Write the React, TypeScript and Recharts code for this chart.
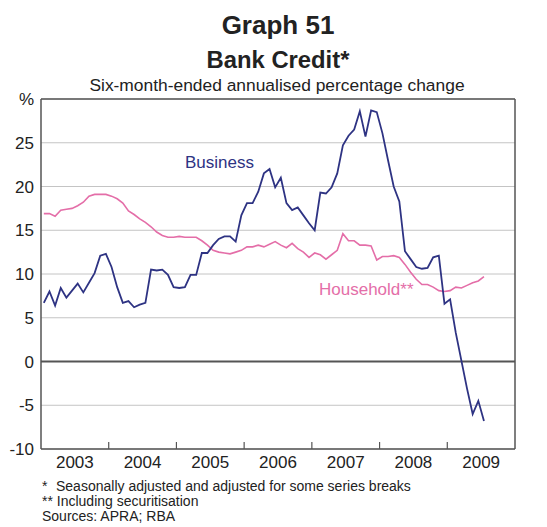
import React from 'react';
import {
  CartesianGrid,
  Line,
  LineChart,
  ReferenceLine,
  XAxis,
  YAxis,
} from 'recharts';

// Monthly observations, Jan 2003 onwards (six-month-ended annualised % change)
const business = [
  6.7, 8.0, 6.4, 8.4, 7.3, 8.1, 8.9, 7.9, 9.0, 10.1, 12.1, 12.3,
  10.8, 8.5, 6.7, 6.9, 6.2, 6.5, 6.7, 10.5, 10.4, 10.5, 9.9, 8.5,
  8.4, 8.5, 9.9, 9.9, 12.4, 12.4, 13.3, 14.0, 14.3, 14.3, 13.7, 16.7,
  18.1, 18.1, 19.4, 21.5, 22.0, 19.9, 21.0, 18.1, 17.3, 17.6, 16.7, 15.8,
  15.0, 19.3, 19.2, 19.9, 21.5, 24.7, 25.8, 26.5, 28.6, 25.7, 28.7, 28.5,
  26.1, 23.0, 20.0, 18.3, 12.6, 11.7, 10.8, 10.6, 10.7, 11.9, 12.1, 6.6,
  7.1, 3.3, 0.1, -3.1, -6.0, -4.5, -6.8,
];

const household = [
  16.9, 16.9, 16.6, 17.3, 17.4, 17.5, 17.8, 18.2, 18.9, 19.1, 19.1, 19.1,
  18.9, 18.6, 18.1, 17.2, 16.8, 16.3, 15.9, 15.4, 14.8, 14.4, 14.2, 14.2,
  14.3, 14.2, 14.2, 14.2, 13.8, 13.3, 12.7, 12.5, 12.4, 12.3, 12.5, 12.7,
  13.1, 13.1, 13.3, 13.1, 13.4, 13.7, 13.3, 13.0, 13.5, 12.9, 12.5, 11.9,
  12.4, 12.2, 11.7, 12.2, 12.7, 14.6, 13.8, 13.8, 13.3, 13.3, 13.2, 11.6,
  12.0, 12.0, 12.1, 11.9, 11.1, 10.2, 9.4, 8.8, 8.8, 8.5, 8.1, 8.0,
  8.1, 8.5, 8.4, 8.7, 9.0, 9.2, 9.7,
];

const years = ['2003', '2004', '2005', '2006', '2007', '2008', '2009'];
const yTicks = [-10, -5, 0, 5, 10, 15, 20, 25, 30];

// x is months since Jan 2003, plotted mid-month
const data = business.map((b, i) => ({
  x: i + 0.5,
  business: b,
  household: household[i],
}));

const xTicks: number[] = [];
for (let m = 0; m <= years.length * 12; m += 6) xTicks.push(m);

const FONT = '"Liberation Sans", Arial, sans-serif';
const NAVY = '#2e3383';
const PINK = '#e46ea8';
const FRAME = '#555555';

const YearTick = (props: any) => {
  const { x, y, payload } = props;
  const v = payload.value as number;
  if (v % 12 === 6) {
    return (
      <text x={x} y={y + 19} textAnchor="middle" fontSize={17} fontFamily={FONT} fill="#222">
        {years[(v - 6) / 12]}
      </text>
    );
  }
  if (v > 0 && v < years.length * 12) {
    return <line x1={x} x2={x} y1={y} y2={y - 7} stroke={FRAME} strokeWidth={1.2} />;
  }
  return <g />;
};

const pctFormat = (v: number) => (v === 30 ? '%' : String(v));

export default function App() {
  return (
    <div style={{ position: 'absolute', left: 0, top: 0, width: 547, height: 527, background: '#fff' }}>
      <LineChart
        width={547}
        height={480}
        data={data}
        margin={{ top: 99, right: 0, bottom: 0, left: 0 }}
      >
        <CartesianGrid vertical={false} stroke="#c4c4c4" yAxisId="left" xAxisId="x" />
        <XAxis
          xAxisId="x"
          dataKey="x"
          type="number"
          domain={[0, years.length * 12]}
          ticks={xTicks}
          interval={0}
          height={31}
          tickSize={0}
          tickMargin={0}
          tickLine={false}
          axisLine={{ stroke: FRAME, strokeWidth: 1.5 }}
          tick={<YearTick />}
        />
        <YAxis
          yAxisId="left"
          domain={[-10, 30]}
          ticks={yTicks}
          interval={0}
          width={41}
          tickLine={false}
          tickSize={0}
          tickMargin={7}
          axisLine={{ stroke: FRAME, strokeWidth: 1.5 }}
          tickFormatter={pctFormat}
          tick={{ fontSize: 17, fill: '#222', fontFamily: FONT }}
        />
        <YAxis
          yAxisId="right"
          orientation="right"
          domain={[-10, 30]}
          ticks={yTicks}
          interval={0}
          width={32}
          tickLine={false}
          tickSize={0}
          tickMargin={6}
          axisLine={{ stroke: FRAME, strokeWidth: 1.5 }}
          tickFormatter={pctFormat}
          tick={{ fontSize: 17, fill: '#222', fontFamily: FONT, textAnchor: 'start' }}
        />
        <ReferenceLine yAxisId="left" xAxisId="x" y={30} stroke={FRAME} strokeWidth={1.5} />
        <ReferenceLine yAxisId="left" xAxisId="x" y={0} stroke={FRAME} strokeWidth={2} />
        <Line
          yAxisId="left"
          xAxisId="x"
          dataKey="household"
          type="linear"
          stroke={PINK}
          strokeWidth={1.6}
          dot={false}
          isAnimationActive={false}
        />
        <Line
          yAxisId="left"
          xAxisId="x"
          dataKey="business"
          type="linear"
          stroke={NAVY}
          strokeWidth={1.8}
          dot={false}
          isAnimationActive={false}
        />
      </LineChart>
      <svg
        width={547}
        height={527}
        style={{ position: 'absolute', left: 0, top: 0, pointerEvents: 'none' }}
        fontFamily={FONT}
      >
        <text x={278} y={34} textAnchor="middle" fontSize={26} fontWeight="bold" fill="#222">
          Graph 51
        </text>
        <text x={278} y={67.5} textAnchor="middle" fontSize={23.8} fontWeight="bold" fill="#222">
          Bank Credit*
        </text>
        <text x={277} y={90.5} textAnchor="middle" fontSize={17.4} fill="#222">
          Six-month-ended annualised percentage change
        </text>
        <text x={185} y={168} fontSize={17} fill={NAVY}>
          Business
        </text>
        <text x={319} y={295} fontSize={17} fill={PINK}>
          Household**
        </text>
        <text x={42} y={491} fontSize={14} fill="#222">*</text>
        <text x={56} y={491} fontSize={14} fill="#222">
          Seasonally adjusted and adjusted for some series breaks
        </text>
        <text x={42} y={506} fontSize={14} fill="#222">
          ** Including securitisation
        </text>
        <text x={42} y={521} fontSize={14} fill="#222">
          Sources: APRA; RBA
        </text>
      </svg>
    </div>
  );
}
